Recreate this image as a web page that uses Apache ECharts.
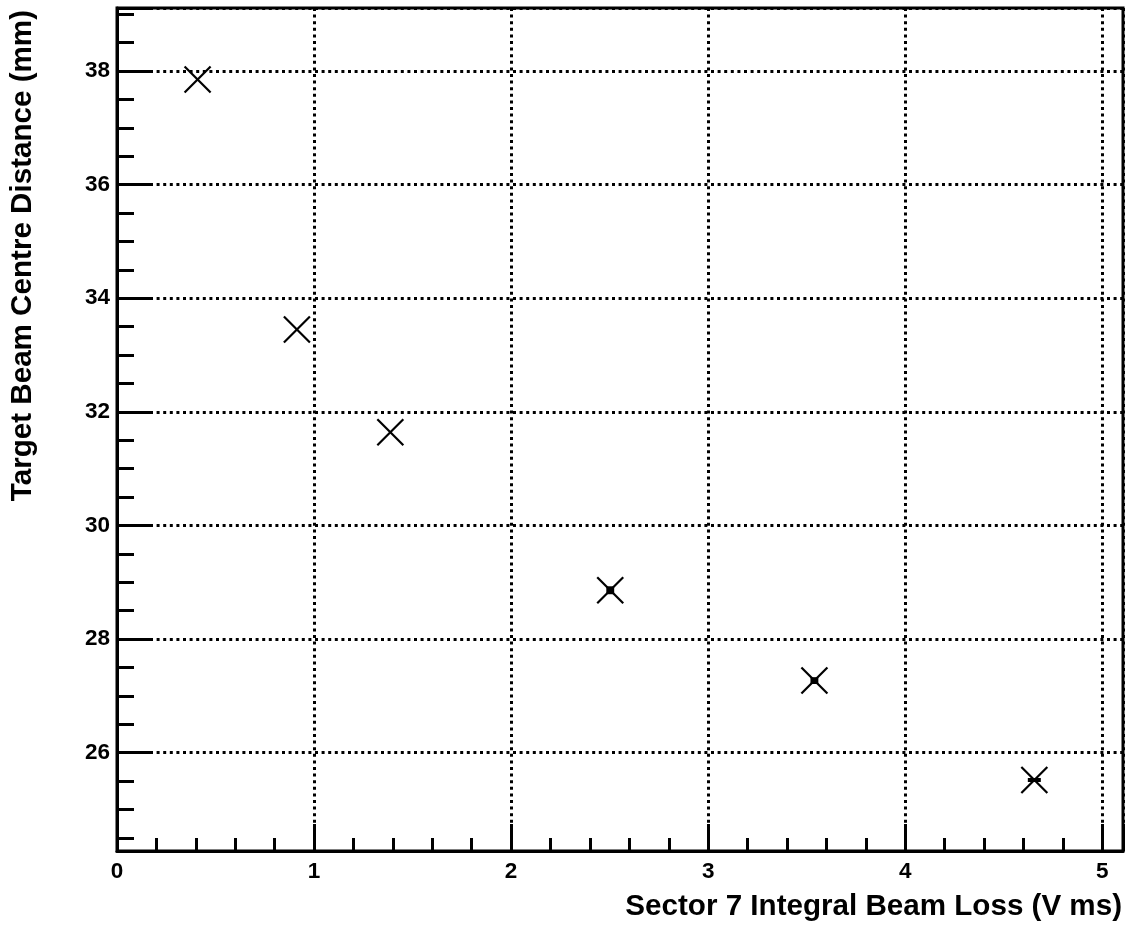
<!DOCTYPE html>
<html>
<head>
<meta charset="utf-8">
<script src="https://cdn.jsdelivr.net/npm/echarts@6/dist/echarts.min.js"></script>
<style>
html,body{margin:0;padding:0;background:#fff;}
#chart{width:1128px;height:927px;}
</style>
</head>
<body>
<div id="chart"></div>
<script>
// Data
var xValues = [0.409, 0.913, 1.387, 2.503, 3.539, 4.655];
var yValues = [37.85, 33.45, 31.64, 28.86, 27.27, 25.52];
var xErrors = [0, 0, 0, 0.02, 0.02, 0.033];
var yErrors = [0, 0, 0, 0.07, 0.06, 0.035];
var xTitle = 'Sector 7 Integral Beam Loss (V ms)';
var yTitle = 'Target Beam Centre Distance (mm)';
var xRange = [0, 5.105];
var yRange = [24.27, 39.11];

var points = xValues.map(function (x, i) { return [x, yValues[i], xErrors[i], yErrors[i]]; });

var FONT = 'Liberation Sans, Arial, sans-serif';
function evenLabel(step) {
  return function (v) {
    var r = Math.round(v / step) * step;
    if (Math.abs(v - r) < 1e-6) return String(Math.round(r));
    return '';
  };
}

var chart = echarts.init(document.getElementById('chart'), null, {renderer: 'canvas'});
chart.setOption({
  animation: false,
  backgroundColor: '#fff',
  grid: {left: 117, top: 8, right: 5, bottom: 76, show: true, borderColor: '#000', borderWidth: 3, backgroundColor: 'transparent'},
  xAxis: [{
    type: 'value', min: xRange[0], max: xRange[1], splitNumber: 5, minInterval: 1, maxInterval: 1,
    axisLine: {show: true, onZero: false, lineStyle: {color: '#000', width: 3}},
    axisTick: {show: true, inside: true, length: 27, lineStyle: {color: '#000', width: 3}},
    axisLabel: {show: true, margin: 9, color: '#000', fontFamily: FONT, fontWeight: 'bold', fontSize: 22.5, formatter: evenLabel(1)},
    splitLine: {show: true, lineStyle: {color: '#000', width: 3, type: [3, 3.6]}}
  }, {
    type: 'value', min: xRange[0], max: xRange[1], splitNumber: 25, minInterval: 0.2, maxInterval: 0.2,
    position: 'bottom',
    axisLine: {show: false},
    axisTick: {show: true, inside: true, length: 13, lineStyle: {color: '#000', width: 3}},
    axisLabel: {show: false},
    splitLine: {show: false}
  }],
  yAxis: [{
    type: 'value', min: yRange[0], max: yRange[1], splitNumber: 7, minInterval: 2, maxInterval: 2,
    axisLine: {show: true, onZero: false, lineStyle: {color: '#000', width: 3}},
    axisTick: {show: true, inside: true, length: 34, lineStyle: {color: '#000', width: 3}},
    axisLabel: {show: true, margin: 7, color: '#000', fontFamily: FONT, fontWeight: 'bold', fontSize: 22.5, formatter: evenLabel(2)},
    splitLine: {show: true, lineStyle: {color: '#000', width: 3, type: [3, 3.6]}}
  }, {
    type: 'value', min: yRange[0], max: yRange[1], splitNumber: 30, minInterval: 0.5, maxInterval: 0.5,
    position: 'left', offset: 0,
    axisLine: {show: false},
    axisTick: {show: true, inside: true, length: 17, lineStyle: {color: '#000', width: 3}},
    axisLabel: {show: false},
    splitLine: {show: false}
  }],
  graphic: [{
    type: 'text', x: 1122, y: 907,
    style: {text: xTitle, fill: '#000', font: 'bold 29.6px ' + FONT, align: 'right', verticalAlign: 'middle'}
  }, {
    type: 'text', x: 23, y: 10, rotation: Math.PI / 2,
    style: {text: yTitle, fill: '#000', font: 'bold 29.6px ' + FONT, align: 'right', verticalAlign: 'middle'}
  }],
  series: [{
    type: 'custom',
    xAxisIndex: 0, yAxisIndex: 0,
    data: points,
    encode: {x: 0, y: 1},
    renderItem: function (params, api) {
      var x = api.value(0), y = api.value(1), xe = api.value(2), ye = api.value(3);
      var c = api.coord([x, y]);
      var h = 13;
      var children = [];
      if (xe > 0 || ye > 0) {
        var p1 = api.coord([x - xe, y + ye]);
        var p2 = api.coord([x + xe, y - ye]);
        children.push({type: 'rect', shape: {x: p1[0], y: p1[1], width: p2[0] - p1[0], height: p2[1] - p1[1]}, style: {fill: '#000'}});
      }
      children.push({type: 'line', shape: {x1: c[0] - h, y1: c[1] - h, x2: c[0] + h, y2: c[1] + h}, style: {stroke: '#000', lineWidth: 2.2}});
      children.push({type: 'line', shape: {x1: c[0] - h, y1: c[1] + h, x2: c[0] + h, y2: c[1] - h}, style: {stroke: '#000', lineWidth: 2.2}});
      return {type: 'group', children: children};
    }
  }]
});
</script>
</body>
</html>
